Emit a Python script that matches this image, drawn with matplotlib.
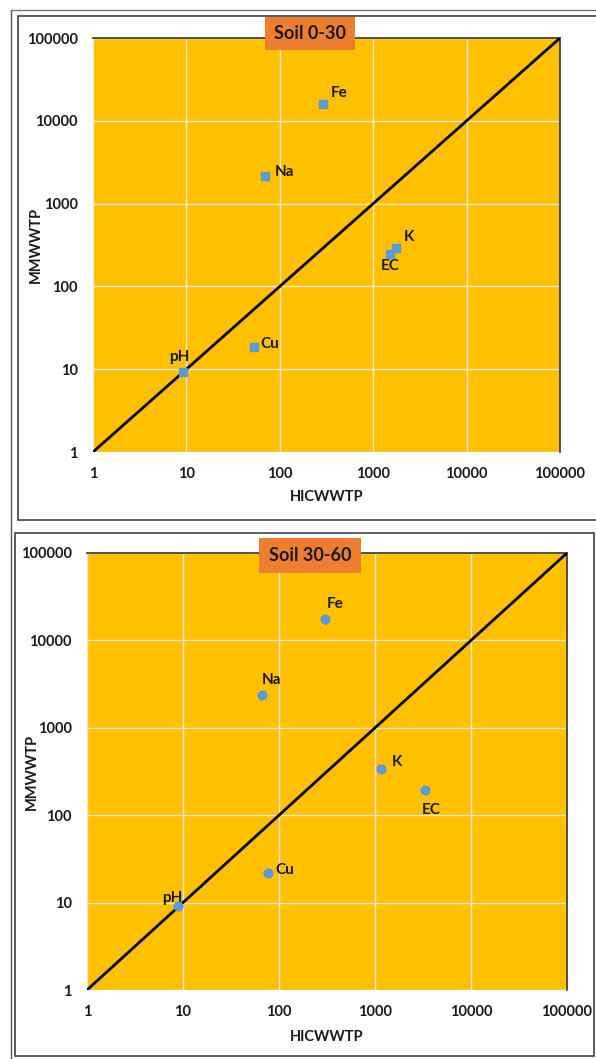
import matplotlib
matplotlib.use('Agg')
import matplotlib.pyplot as plt
from matplotlib.patches import Rectangle

plt.rcParams['font.family'] = ['Lato', 'DejaVu Sans']
plt.rcParams['font.weight'] = 'bold'

W, H = 596, 1059

elements = ['pH', 'EC', 'Cu', 'K', 'Na', 'Fe']

# Soil 0-30
hic_0_30 = [9.2, 1520, 53, 1750, 69, 290]
mmw_0_30 = [9.2, 246, 18.5, 290, 2150, 15900]
# label offsets in pixels (dx, dy)
off_0_30 = [(-4, 15), (0, -12), (16, 3), (13, 11), (20, 4), (16, 11)]

# Soil 30-60
hic_30_60 = [8.9, 3320, 77, 1150, 66, 302]
mmw_30_60 = [9.1, 194, 22, 337, 2370, 17600]
off_30_60 = [(-6, 8), (6, -20), (17, 3), (16, 7), (10, 15), (10, 15)]

ticks = [1, 10, 100, 1000, 10000, 100000]
tick_labels = ['1', '10', '100', '1000', '10000', '100000']

ORANGE_BG = '#FFC000'
TITLE_BG = '#ED7D31'
MARK = '#5B9BD5'
TXT = '#1a1a1a'


def fig_rect(x0, y0, x1, y1):
    # pixel box (top-left origin) -> figure fraction
    return [x0 / W, 1 - y1 / H, (x1 - x0) / W, (y1 - y0) / H]


fig = plt.figure(figsize=(W / 100, H / 100), dpi=100)

# outer window edge and chart frames (behind the axes)
fig.add_artist(plt.Line2D([11 / W, 11 / W], [0, 1 - 10 / H], color='#555555', lw=1, zorder=-10))
fig.add_artist(plt.Line2D([11 / W, 1], [1 - 10 / H, 1 - 10 / H], color='#777777', lw=1, zorder=-10))
for (x0, y0, x1, y1) in [(18, 16, 600, 520), (15, 533, 594, 1056)]:
    r = fig_rect(x0, y0, x1, y1)
    fig.add_artist(Rectangle((r[0], r[1]), r[2], r[3], transform=fig.transFigure,
                             facecolor='white', edgecolor='#404040', lw=1.2, zorder=-10))


def draw(box, xs, ys, offs, marker, title, title_box, ylab_x, xlab_y):
    ax = fig.add_axes(fig_rect(*box))
    ax.set_facecolor(ORANGE_BG)
    ax.set_xscale('log')
    ax.set_yscale('log')
    ax.set_xlim(1, 100000)
    ax.set_ylim(1, 100000)
    ax.grid(True, color='#ECE6D6', lw=1)
    ax.set_axisbelow(True)
    ax.plot([1, 100000], [1, 100000], color='black', lw=2, zorder=3)
    ax.scatter(xs, ys, marker=marker, s=40, color=MARK, zorder=4)
    for name, x, y, (dx, dy) in zip(elements, xs, ys, offs):
        ax.annotate(name, (x, y), xytext=(dx * 0.72, dy * 0.72), textcoords='offset points',
                    ha='center', va='center', fontsize=11, fontweight='bold', color=TXT)
    ax.set_xticks(ticks)
    ax.set_xticklabels(tick_labels)
    ax.set_yticks(ticks)
    ax.set_yticklabels(tick_labels)
    ax.minorticks_off()
    ax.tick_params(length=0, labelsize=10.5, colors=TXT)
    ax.tick_params(axis='x', pad=11)
    ax.tick_params(axis='y', pad=11)
    for lab in ax.get_xticklabels() + ax.get_yticklabels():
        lab.set_fontweight('bold')
    ax.set_xlabel('HICWWTP', fontsize=10.5, fontweight='bold', color=TXT)
    ax.set_ylabel('MMWWTP', fontsize=10.5, fontweight='bold', color=TXT)
    ax.yaxis.set_label_coords(ylab_x, 0.5)
    ax.xaxis.set_label_coords(0.5, xlab_y)
    for s in ['left', 'bottom']:
        ax.spines[s].set_visible(False)
    for s in ['top', 'right']:
        ax.spines[s].set_color('#333333')
        ax.spines[s].set_linewidth(1.2)
    # title box
    r = fig_rect(*title_box)
    fig.add_artist(Rectangle((r[0], r[1]), r[2], r[3], transform=fig.transFigure,
                             facecolor=TITLE_BG, edgecolor='none', zorder=5))
    fig.text(r[0] + r[2] / 2, r[1] + r[3] / 2, title, ha='center', va='center',
             fontsize=13, fontweight='bold', color=TXT, zorder=6)
    return ax


draw((93, 38, 560, 452), hic_0_30, mmw_0_30, off_0_30, 's', 'Soil 0-30',
     (265, 17, 355, 50), -0.108, -0.092)
draw((87, 553, 567, 990), hic_30_60, mmw_30_60, off_30_60, 'o', 'Soil 30-60',
     (259, 538, 361, 573), -0.100, -0.092)

fig.savefig('out.png', dpi=100)
